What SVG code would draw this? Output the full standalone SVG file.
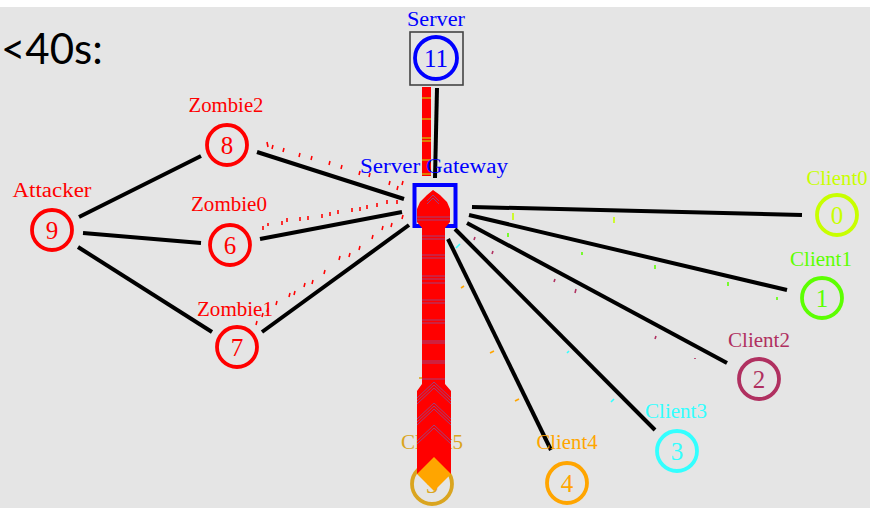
<svg xmlns="http://www.w3.org/2000/svg" width="870" height="508" viewBox="0 0 870 508">
  <style>
    .lbl { font-family: "Liberation Serif", "DejaVu Serif", serif; font-size: 20px; text-anchor: middle; }
    .num { font-family: "Liberation Serif", "DejaVu Serif", serif; font-size: 25px; text-anchor: middle; }
    .ring { fill: none; stroke-width: 3.8; }
    .link { stroke: #000; stroke-width: 4; stroke-linecap: butt; fill: none; }
    .drop { stroke: #ff0000; stroke-width: 1.6; }
    .pk { stroke-width: 1.6; }
    .seam { stroke: #a0407a; stroke-width: 1; fill: none; }
  </style>

  <!-- canvas -->
  <rect x="0" y="0" width="870" height="508" fill="#e5e5e5"/>
  <rect x="0" y="0" width="870" height="7" fill="#ffffff"/>

  <text x="1" y="64" font-family="Lato, 'Open Sans', sans-serif" font-size="42" fill="#000">&lt;40s:</text>

  <!-- links -->
  <g id="connectors">
    <line class="link" x1="79" y1="217" x2="201" y2="156"/>
    <line class="link" x1="83" y1="233" x2="201" y2="243"/>
    <line class="link" x1="78" y1="247" x2="212" y2="332"/>
    <line class="link" x1="257" y1="152" x2="404" y2="199"/>
    <line class="link" x1="260" y1="239" x2="402" y2="212"/>
    <line class="link" x1="262" y1="332" x2="409" y2="225"/>
    <line class="link" x1="437" y1="88" x2="435" y2="178"/>
    <line class="link" x1="472" y1="207" x2="802" y2="215"/>
    <line class="link" x1="469" y1="215" x2="787" y2="290"/>
    <line class="link" x1="467" y1="223" x2="727" y2="363"/>
    <line class="link" x1="455" y1="229" x2="655" y2="430"/>
    <line class="link" x1="448" y1="239" x2="551" y2="450"/>
  </g>

  <!-- dropped packets near the gateway -->
  <g id="drops">
    <line class="drop" x1="267" y1="142" x2="268" y2="147"/>
    <line class="drop" x1="273" y1="145" x2="272" y2="149"/>
    <line class="drop" x1="284" y1="148" x2="283" y2="152"/>
    <line class="drop" x1="300" y1="153" x2="299" y2="157"/>
    <line class="drop" x1="312" y1="156" x2="311" y2="160"/>
    <line class="drop" x1="330" y1="161" x2="329" y2="165"/>
    <line class="drop" x1="342" y1="165" x2="341" y2="169"/>
    <line class="drop" x1="360" y1="171" x2="359" y2="175"/>
    <line class="drop" x1="370" y1="173" x2="369" y2="177"/>
    <line class="drop" x1="390" y1="181" x2="389" y2="185"/>
    <line class="drop" x1="398" y1="186" x2="397" y2="190"/>
    <line class="drop" x1="403" y1="181" x2="402" y2="185"/>

    <line class="drop" x1="263" y1="226" x2="263" y2="230"/>
    <line class="drop" x1="268" y1="223" x2="268" y2="226"/>
    <line class="drop" x1="282" y1="221" x2="282" y2="225"/>
    <line class="drop" x1="287" y1="218" x2="287" y2="222"/>
    <line class="drop" x1="300" y1="217" x2="300" y2="221"/>
    <line class="drop" x1="308" y1="216" x2="308" y2="220"/>
    <line class="drop" x1="322" y1="214" x2="322" y2="218"/>
    <line class="drop" x1="330" y1="212" x2="330" y2="216"/>
    <line class="drop" x1="338" y1="210" x2="338" y2="214"/>
    <line class="drop" x1="352" y1="208" x2="352" y2="212"/>
    <line class="drop" x1="360" y1="207" x2="360" y2="211"/>
    <line class="drop" x1="367" y1="205" x2="367" y2="209"/>
    <line class="drop" x1="377" y1="203" x2="377" y2="207"/>
    <line class="drop" x1="387" y1="200" x2="387" y2="204"/>
    <line class="drop" x1="397" y1="200" x2="397" y2="204"/>

    <line class="drop" x1="257" y1="321" x2="256" y2="325"/>
    <line class="drop" x1="263" y1="313" x2="262" y2="317"/>
    <line class="drop" x1="268" y1="308" x2="267" y2="312"/>
    <line class="drop" x1="277" y1="301" x2="276" y2="305"/>
    <line class="drop" x1="290" y1="293" x2="289" y2="297"/>
    <line class="drop" x1="295" y1="291" x2="294" y2="295"/>
    <line class="drop" x1="305" y1="283" x2="304" y2="287"/>
    <line class="drop" x1="313" y1="280" x2="312" y2="284"/>
    <line class="drop" x1="325" y1="270" x2="324" y2="274"/>
    <line class="drop" x1="340" y1="256" x2="339" y2="260"/>
    <line class="drop" x1="350" y1="253" x2="349" y2="257"/>
    <line class="drop" x1="360" y1="246" x2="359" y2="250"/>
    <line class="drop" x1="373" y1="235" x2="372" y2="239"/>
    <line class="drop" x1="383" y1="226" x2="382" y2="230"/>
    <line class="drop" x1="392" y1="223" x2="391" y2="227"/>
    <line class="drop" x1="403" y1="215" x2="402" y2="219"/>
  </g>

  <!-- packets in flight on the client links -->
  <g id="packets">
    <line class="pk" stroke="#c8ff00" x1="513" y1="213" x2="513" y2="220"/>
    <line class="pk" stroke="#c8ff00" x1="614" y1="217" x2="614" y2="223"/>
    <line class="pk" stroke="#5cff00" x1="508" y1="233" x2="508" y2="237"/>
    <line class="pk" stroke="#5cff00" x1="582" y1="252" x2="582" y2="255"/>
    <line class="pk" stroke="#5cff00" x1="655" y1="265" x2="655" y2="269"/>
    <line class="pk" stroke="#5cff00" x1="728" y1="282" x2="728" y2="286"/>
    <line class="pk" stroke="#5cff00" x1="777" y1="297" x2="777" y2="300"/>
    <line class="pk" stroke="#b03060" x1="475" y1="237" x2="474" y2="240"/>
    <line class="pk" stroke="#b03060" x1="493" y1="251" x2="492" y2="254"/>
    <line class="pk" stroke="#b03060" x1="555" y1="279" x2="554" y2="282"/>
    <line class="pk" stroke="#b03060" x1="576" y1="289" x2="575" y2="293"/>
    <line class="pk" stroke="#b03060" x1="656" y1="336" x2="655" y2="339"/>
    <line class="pk" stroke="#b03060" x1="695" y1="358" x2="695" y2="359"/>
    <line class="pk" stroke="#33ffff" x1="456" y1="248" x2="460" y2="244"/>
    <line class="pk" stroke="#33ffff" x1="567" y1="353" x2="569" y2="351"/>
    <line class="pk" stroke="#33ffff" x1="611" y1="402" x2="614" y2="399"/>
    <line class="pk" stroke="#ffa500" x1="461" y1="288" x2="464" y2="286"/>
    <line class="pk" stroke="#ffa500" x1="490" y1="353" x2="494" y2="351"/>
    <line class="pk" stroke="#ffa500" x1="515" y1="401" x2="519" y2="399"/>
    <line class="pk" stroke="#daa520" x1="419" y1="378" x2="423" y2="378"/>
  </g>

  <!-- server to gateway packet stream -->
  <g id="server-stream">
    <rect x="422" y="87" width="9" height="89" fill="#ff0000"/>
    <g stroke="#c8d200" stroke-width="1.2">
      <line x1="422" y1="98" x2="431" y2="98"/>
      <line x1="422" y1="119" x2="431" y2="119"/>
      <line x1="422" y1="138" x2="431" y2="138"/>
      <line x1="422" y1="141" x2="431" y2="141"/>
      <line x1="422" y1="160" x2="431" y2="160"/>
      <line x1="422" y1="174" x2="431" y2="174"/>
    </g>
  </g>

  <!-- nodes -->
  <g id="node-11">
    <rect x="410" y="32" width="53" height="53" fill="none" stroke="#444" stroke-width="1.6"/>
    <circle class="ring" cx="436" cy="58" r="21" stroke="#0000ff"/>
    <text class="num" x="436" y="67" fill="#0000ff">11</text>
    <text class="lbl" x="436" y="26" fill="#0000ff" textLength="58" lengthAdjust="spacingAndGlyphs">Server</text>
  </g>

  <g id="node-9">
    <circle class="ring" cx="52" cy="230" r="20" stroke="#ff0000"/>
    <text class="num" x="52" y="239" fill="#ff0000">9</text>
    <text class="lbl" x="52" y="197" fill="#ff0000" textLength="79" lengthAdjust="spacingAndGlyphs">Attacker</text>
  </g>

  <g id="node-8">
    <circle class="ring" cx="227" cy="145" r="20" stroke="#ff0000"/>
    <text class="num" x="227" y="154" fill="#ff0000">8</text>
    <text class="lbl" x="226" y="112" fill="#ff0000" textLength="75" lengthAdjust="spacingAndGlyphs">Zombie2</text>
  </g>

  <g id="node-6">
    <circle class="ring" cx="230" cy="245" r="20" stroke="#ff0000"/>
    <text class="num" x="230" y="254" fill="#ff0000">6</text>
    <text class="lbl" x="229" y="211" fill="#ff0000" textLength="76" lengthAdjust="spacingAndGlyphs">Zombie0</text>
  </g>

  <g id="node-7">
    <circle class="ring" cx="237" cy="347" r="20" stroke="#ff0000"/>
    <text class="num" x="237" y="356" fill="#ff0000">7</text>
    <text class="lbl" x="235" y="316" fill="#ff0000" textLength="76" lengthAdjust="spacingAndGlyphs">Zombie1</text>
  </g>

  <g id="node-0">
    <circle class="ring" cx="837" cy="215" r="20" stroke="#c8ff00"/>
    <text class="num" x="837" y="224" fill="#c8ff00">0</text>
    <text class="lbl" x="837" y="185" fill="#c8ff00" textLength="61" lengthAdjust="spacingAndGlyphs">Client0</text>
  </g>

  <g id="node-1">
    <circle class="ring" cx="822" cy="298" r="20" stroke="#5cff00"/>
    <text class="num" x="822" y="307" fill="#5cff00">1</text>
    <text class="lbl" x="821" y="266" fill="#5cff00" textLength="62" lengthAdjust="spacingAndGlyphs">Client1</text>
  </g>

  <g id="node-2">
    <circle class="ring" cx="759" cy="379" r="20" stroke="#b03060"/>
    <text class="num" x="759" y="388" fill="#b03060">2</text>
    <text class="lbl" x="759" y="347" fill="#b03060" textLength="62" lengthAdjust="spacingAndGlyphs">Client2</text>
  </g>

  <g id="node-3">
    <circle class="ring" cx="677" cy="451" r="20" stroke="#33ffff"/>
    <text class="num" x="677" y="460" fill="#33ffff">3</text>
    <text class="lbl" x="676" y="418" fill="#33ffff" textLength="62" lengthAdjust="spacingAndGlyphs">Client3</text>
  </g>

  <g id="node-4">
    <circle class="ring" cx="567" cy="483" r="20" stroke="#ffa500"/>
    <text class="num" x="567" y="492" fill="#ffa500">4</text>
    <text class="lbl" x="567" y="449" fill="#ffa500" textLength="61" lengthAdjust="spacingAndGlyphs">Client4</text>
  </g>

  <g id="node-5">
    <circle class="ring" cx="432" cy="484" r="20" stroke="#daa520"/>
    <text class="num" x="432" y="493" fill="#daa520">5</text>
    <text class="lbl" x="432" y="449" fill="#daa520" textLength="62" lengthAdjust="spacingAndGlyphs">Client5</text>
  </g>

  <g id="node-10">
    <text class="lbl" x="434" y="173" fill="#0000ff" textLength="148" lengthAdjust="spacingAndGlyphs">Server Gateway</text>
    <rect x="414.5" y="185" width="41" height="41" fill="none" stroke="#0000ff" stroke-width="4"/>
  </g>

  <!-- queued flood between gateway and Client5 -->
  <g id="flood">
    <path d="M433,190 L440,195 L447,202 L450,209 L450,222 L445,228 L445,384 L451,391 L451,474 L417,474 L417,391 L422,384 L422,228 L417,222 L417,209 L420,202 L427,195 Z" fill="#ff0000"/>
    <g class="seam">
      <polyline points="427,201 433,195 439,201"/>
      <polyline points="427,204 433,198 439,204"/>
      <line x1="417" y1="217" x2="450" y2="217"/>
      <line x1="417" y1="220" x2="450" y2="220"/>
      <line x1="422" y1="236" x2="445" y2="236"/>
      <line x1="422" y1="239" x2="445" y2="239"/>
      <line x1="422" y1="255" x2="445" y2="255"/>
      <line x1="422" y1="258" x2="445" y2="258"/>
      <line x1="422" y1="276" x2="445" y2="276"/>
      <line x1="422" y1="279" x2="445" y2="279"/>
      <line x1="422" y1="283" x2="445" y2="283"/>
      <line x1="422" y1="300" x2="445" y2="300"/>
      <line x1="422" y1="303" x2="445" y2="303"/>
      <line x1="422" y1="320" x2="445" y2="320"/>
      <line x1="422" y1="323" x2="445" y2="323"/>
      <line x1="422" y1="341" x2="445" y2="341"/>
      <line x1="422" y1="343" x2="445" y2="343"/>
      <line x1="422" y1="361" x2="445" y2="361"/>
      <line x1="422" y1="363" x2="445" y2="363"/>
      <line x1="422" y1="379" x2="445" y2="379"/>
      <polyline points="417,398 434,382 451,398"/>
      <polyline points="417,401 434,385 451,401"/>
      <polyline points="417,404 434,388 451,404"/>
      <polyline points="417,419 434,403 451,419"/>
      <polyline points="417,422 434,406 451,422"/>
      <polyline points="417,425 434,409 451,425"/>
      <polyline points="417,441 434,425 451,441"/>
      <polyline points="417,444 434,428 451,444"/>
    </g>
    <polygon points="434,457 451,474 434,491 417,474" fill="#ffa500"/>
  </g>
</svg>
